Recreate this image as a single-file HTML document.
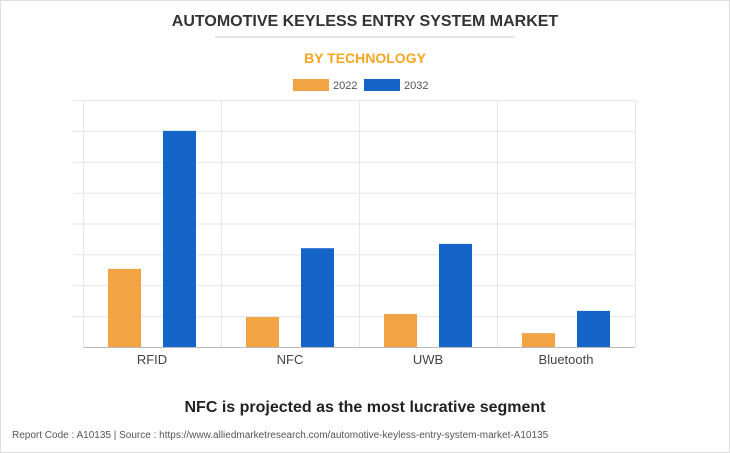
<!DOCTYPE html>
<html><head><meta charset="utf-8"><style>
body{margin:0;background:#fff;font-family:"Liberation Sans",Arial,sans-serif;}
#wrap{position:relative;width:730px;height:453px;overflow:hidden}
#wrap svg{position:absolute;left:0;top:0}
</style></head><body>
<div id="wrap">
<svg id="chart" width="730" height="453">
<rect x="0.5" y="0.5" width="729" height="452" fill="none" stroke="#ddd"/>
<text x="365" y="26" text-anchor="middle" font-size="16" font-weight="bold" fill="#333">AUTOMOTIVE KEYLESS ENTRY SYSTEM MARKET</text>
<line x1="215" y1="37" x2="515" y2="37" stroke="#ccc"/>
<text x="365" y="63" text-anchor="middle" font-size="14" font-weight="bold" fill="#f5a623">BY TECHNOLOGY</text>
<g>
<rect x="293" y="79" width="36" height="12" fill="#f2a444"/>
<text x="333" y="89" font-size="11" fill="#555">2022</text>
<rect x="364" y="79" width="36" height="12" fill="#1565c8"/>
<text x="404" y="89" font-size="11" fill="#555">2032</text>
</g>
<g id="grid"></g><g id="bars"></g><g id="xlabels"></g>
<text x="365" y="412" text-anchor="middle" font-size="16" font-weight="bold" fill="#222">NFC is projected as the most lucrative segment</text>
<text x="12" y="438" font-size="10" fill="#555">Report Code : A10135  |  Source : https://www.alliedmarketresearch.com/automotive-keyless-entry-system-market-A10135</text>
</svg>
</div>
<script>
const categories=["RFID","NFC","UWB","Bluetooth"];
const values2022=[2.53,0.97,1.07,0.45];
const values2032=[7.0,3.2,3.34,1.17];
const yMax=8;
const NS="http://www.w3.org/2000/svg";
const L=83,R=635,T=100,B=347;
const catW=(R-L)/categories.length;
function y(v){return B-(v/yMax)*(B-T);}
function mk(tag,attrs,parent){const e=document.createElementNS(NS,tag);for(const k in attrs)e.setAttribute(k,attrs[k]);document.getElementById(parent).appendChild(e);return e;}
for(let i=0;i<=yMax;i++){
 const g=mk("line",{x1:i===0?L:73,x2:R,y1:y(i)+0.5,y2:y(i)+0.5,stroke:i===0?"#bbb":"#e6e6e6"},"grid");
 
 
}
for(let i=0;i<=categories.length;i++){
 const g=mk("line",{x1:L+i*catW+0.5,x2:L+i*catW+0.5,y1:T,y2:B,stroke:"#e6e6e6"},"grid");
 
 
}
categories.forEach((c,i)=>{
 const x0=L+i*catW;
 const b1=mk("rect",{x:x0+25,y:y(values2022[i]),width:33,height:B-y(values2022[i]),fill:"#f2a444"},"bars");
 
 
 const b2=mk("rect",{x:x0+80,y:y(values2032[i]),width:33,height:B-y(values2032[i]),fill:"#1565c8"},"bars");
 
 
 const t=mk("text",{x:x0+catW/2,y:364,"text-anchor":"middle","font-size":"13",fill:"#444"},"xlabels");
 t.textContent=c;
 
 
});
</script>
</body></html>
